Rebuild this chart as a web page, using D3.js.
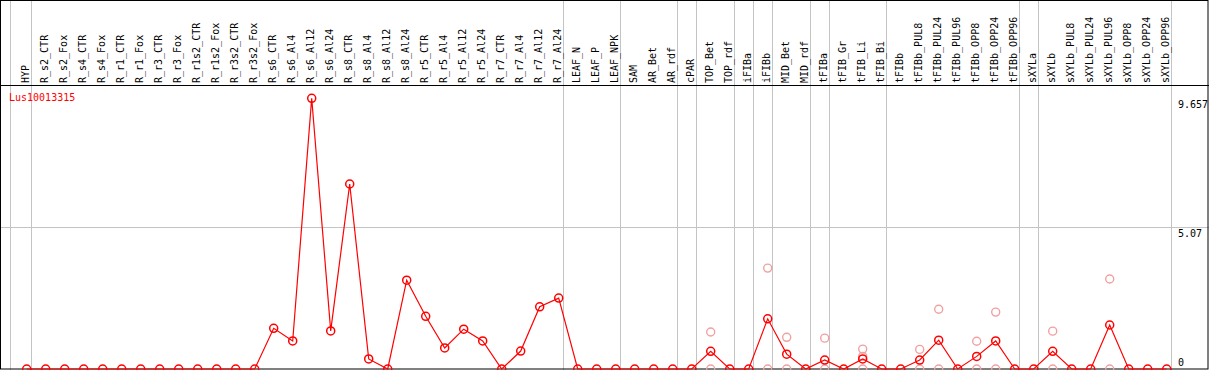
<!DOCTYPE html>
<html>
<head>
<meta charset="utf-8">
<script src="https://cdn.jsdelivr.net/npm/d3@7"></script>
<style>
  body { margin: 0; background: #fff; }
  svg { display: block; }
  text { font-family: "DejaVu Sans Mono", monospace; }
</style>
</head>
<body>
<div id="chart"></div>
<script>
const samples = ['HYP', 'R_s2_CTR', 'R_s2_Fox', 'R_s4_CTR', 'R_s4_Fox', 'R_r1_CTR', 'R_r1_Fox',
  'R_r3_CTR', 'R_r3_Fox', 'R_r1s2_CTR', 'R_r1s2_Fox', 'R_r3s2_CTR', 'R_r3s2_Fox',
  'R_s6_CTR', 'R_s6_Al4', 'R_s6_Al12', 'R_s6_Al24', 'R_s8_CTR', 'R_s8_Al4', 'R_s8_Al12', 'R_s8_Al24',
  'R_r5_CTR', 'R_r5_Al4', 'R_r5_Al12', 'R_r5_Al24', 'R_r7_CTR', 'R_r7_Al4', 'R_r7_Al12', 'R_r7_Al24',
  'LEAF_N', 'LEAF_P', 'LEAF_NPK', 'SAM', 'AR_Bet', 'AR_rdf', 'cPAR', 'TOP_Bet', 'TOP_rdf',
  'iFIBa', 'iFIBb', 'MID_Bet', 'MID_rdf', 'tFIBa', 'tFIB_Gr', 'tFIB_Li', 'tFIB_Bi',
  'tFIBb', 'tFIBb_PUL8', 'tFIBb_PUL24', 'tFIBb_PUL96', 'tFIBb_OPP8', 'tFIBb_OPP24', 'tFIBb_OPP96',
  'sXYLa', 'sXYLb', 'sXYLb_PUL8', 'sXYLb_PUL24', 'sXYLb_PUL96', 'sXYLb_OPP8', 'sXYLb_OPP24', 'sXYLb_OPP96']

// mean expression per sample
const means = [0, 0, 0, 0, 0, 0, 0, 0, 0, 0, 0, 0, 0,
  1.45, 1.0, 9.657, 1.36, 6.6, 0.36, 0, 3.17,
  1.88, 0.75, 1.42, 1.0, 0, 0.64, 2.22, 2.53,
  0, 0, 0, 0, 0, 0, 0, 0.63, 0,
  0, 1.79, 0.53, 0, 0.32, 0, 0.36, 0,
  0, 0.32, 1.03, 0, 0.45, 1.0, 0,
  0, 0.63, 0, 0, 1.57, 0, 0, 0]

// replicate values (only samples that show them)
const repSamples = ['TOP_Bet', 'iFIBb', 'MID_Bet', 'tFIBa', 'tFIB_Li', 'tFIBb_PUL8', 'tFIBb_PUL24',
  'tFIBb_OPP8', 'tFIBb_OPP24', 'sXYLb', 'sXYLb_PUL96']
const repValues = [[1.32, 0], [3.6, 0], [1.13, 0], [1.1, 0], [0.71, 0.45, 0], [0.7, 0], [2.13, 0],
  [0.99, 0], [2.03, 0], [1.35, 0], [3.21, 0]]

// dividers are drawn after these samples (-1 = before the first)
const groupEnds = [-1, 0, 28, 31, 34, 35, 37, 38, 39, 41, 42, 45, 52, 53, 60]

const yTicks = [0, 5.07, 9.657]
const geneName = 'Lus10013315'

const width = 1209, height = 370
const headerY = 85.5

const svg = d3.select('#chart').append('svg')
  .attr('width', width)
  .attr('height', height)

const x = d3.scalePoint()
  .domain(samples)
  .range([26.7, 1166.7])
const step = x.step()

const y = d3.scaleLinear()
  .domain([0, 9.657])
  .range([369, 98.3])

const gx = i => i < 0 ? 10.5 : Math.round(x(samples[0]) + step * i + 4) + 0.5

// horizontal grid line
svg.append('line')
  .attr('x1', 0).attr('x2', width)
  .attr('y1', Math.round(y(5.07)) + 0.5).attr('y2', Math.round(y(5.07)) + 0.5)
  .attr('stroke', '#c4c4c4')

// group dividers
svg.selectAll('.divider')
  .data(groupEnds)
  .enter().append('line')
  .attr('class', 'divider')
  .attr('x1', d => gx(d)).attr('x2', d => gx(d))
  .attr('y1', 0).attr('y2', height)
  .attr('stroke', '#c4c4c4')

// frame + header line
svg.append('rect')
  .attr('x', 0.5).attr('y', 0.5)
  .attr('width', width - 1.5).attr('height', 368.5)
  .attr('fill', 'none')
  .attr('stroke', '#000')
svg.append('line')
  .attr('x1', 0).attr('x2', width)
  .attr('y1', headerY).attr('y2', headerY)
  .attr('stroke', '#000')

// sample labels
svg.selectAll('.lab')
  .data(samples)
  .enter().append('text')
  .attr('class', 'lab')
  .attr('transform', d => `translate(${x(d) + 1.8},83) rotate(-90)`)
  .attr('font-size', '10px')
  .attr('fill', '#000')
  .text(d => d)

// y labels
svg.selectAll('.ylab')
  .data(yTicks)
  .enter().append('text')
  .attr('class', 'ylab')
  .attr('x', 1178)
  .attr('y', d => d === 0 ? y(d) - 3 : y(d) + 10)
  .attr('font-size', '10px')
  .attr('fill', '#000')
  .text(d => d)

svg.append('text')
  .attr('x', 9)
  .attr('y', 100.5)
  .attr('font-size', '10px')
  .attr('fill', '#f00')
  .text(geneName)

// replicates
const reps = []
repSamples.forEach((s, i) => repValues[i].forEach(v => reps.push({ s: s, v: v })))

svg.selectAll('.rep')
  .data(reps)
  .enter().append('circle')
  .attr('class', 'rep')
  .attr('cx', d => x(d.s))
  .attr('cy', d => y(d.v))
  .attr('r', 4)
  .attr('fill', 'none')
  .attr('stroke', '#f0a0a0')
  .attr('stroke-width', 1.4)

// mean line
const pts = samples.map((s, i) => ({ s: s, v: means[i] }))

svg.append('path')
  .datum(pts)
  .attr('d', d3.line().x(d => x(d.s)).y(d => y(d.v)))
  .attr('fill', 'none')
  .attr('stroke', '#f00')
  .attr('stroke-width', 1.2)

svg.selectAll('.pt')
  .data(pts)
  .enter().append('circle')
  .attr('class', 'pt')
  .attr('cx', d => x(d.s))
  .attr('cy', d => y(d.v))
  .attr('r', 4)
  .attr('fill', 'none')
  .attr('stroke', '#f00')
  .attr('stroke-width', 1.5)
</script>
</body>
</html>
